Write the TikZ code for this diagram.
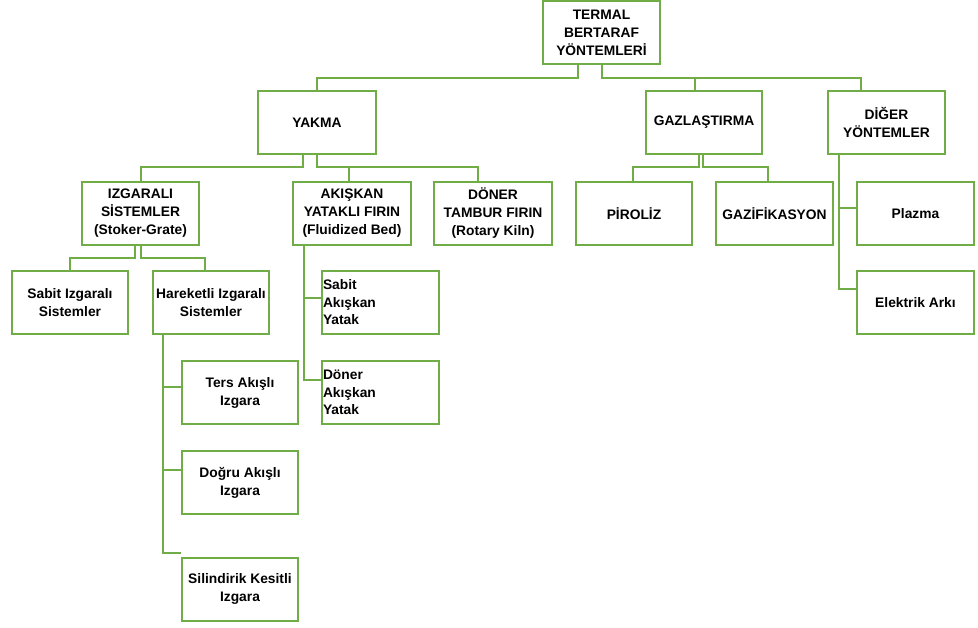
\documentclass[tikz,border=0pt]{standalone}
\usepackage{fontspec}
\setmainfont{Liberation Sans}
\definecolor{boxgreen}{RGB}{112,173,71}
\begin{document}
\begin{tikzpicture}[x=1pt,y=-1pt,
  box/.style={draw=boxgreen, line width=2pt, fill=white, minimum width=117pt, minimum height=63pt,
    inner sep=0pt, align=center, font=\fontsize{13.8}{18}\selectfont\bfseries, text=black},
  lbox/.style={draw=boxgreen, line width=2pt, fill=white, text width=115pt, minimum height=63pt,
    inner xsep=1pt, inner ysep=0pt, align=left, font=\fontsize{13.8}{17.5}\selectfont\bfseries, text=black},
  conn/.style={draw=boxgreen, line width=2pt}]
\useasboundingbox (0,0) rectangle (978,628);
% level 0
\node[box] (root) at (601.5,32.5) {TERMAL\\BERTARAF\\YÖNTEMLERİ};
% level 1
\node[box, minimum width=118pt] (yakma) at (317,122.5) {\raisebox{-2pt}{YAKMA}};
\node[box, minimum width=116pt] (gaz) at (704,122.5) {\raisebox{-3pt}{GAZLAŞTIRMA}};
\node[box] (diger) at (886.5,122.5) {DİĞER\\YÖNTEMLER};
% level 2
\node[box] (izg) at (140.5,213.5) {IZGARALI\\SİSTEMLER\\(Stoker-Grate)};
\node[box, minimum width=118pt] (aki) at (352,213.5) {AKIŞKAN\\YATAKLI FIRIN\\(Fluidized Bed)};
\node[box, minimum width=118pt] (don) at (493,213.5) {DÖNER\\TAMBUR FIRIN\\(Rotary Kiln)};
\node[box, minimum width=116pt] (pir) at (634,213.5) {PİROLİZ};
\node[box] (gzf) at (774.5,213.5) {GAZİFİKASYON};
\node[box] (plz) at (915.5,213.5) {Plazma};
\node[box] (elk) at (915.5,302.5) {Elektrik Arkı};
% level 3
\node[box, minimum width=116pt] (sbz) at (70,302.5) {Sabit Izgaralı\\Sistemler};
\node[box, minimum width=116pt] (hrk) at (211,302.5) {Hareketli Izgaralı\\Sistemler};
\node[lbox] (sak) at (380.5,302.5) {Sabit\\Akışkan\\Yatak};
\node[lbox] (dak) at (380.5,392.5) {Döner\\Akışkan\\Yatak};
% level 4
\node[box, minimum width=116pt] (trs) at (240,392.5) {Ters Akışlı\\Izgara};
\node[box, minimum width=116pt] (dgr) at (240,482.5) {Doğru Akışlı\\Izgara};
\node[box, minimum width=116pt] (sil) at (240,589) {Silindirik Kesitli\\Izgara};
% connectors
\draw[conn] ([xshift=-23.5]root.south) -- ++(0,13) -| (yakma.north);
\draw[conn] (root.south) -- ++(0,13) -| ([xshift=50]gaz.north west);
\draw[conn] (root.south) -- ++(0,13) -| ([xshift=34]diger.north west);
\draw[conn] ([xshift=-14]yakma.south) -- ++(0,12) -| (izg.north);
\draw[conn] (yakma.south) -- ++(0,12) -| ([xshift=-3]aki.north);
\draw[conn] (yakma.south) -- ++(0,12) -| ([xshift=-15]don.north);
\draw[conn] ([xshift=-5]gaz.south) -- ++(0,12) -| ([xshift=-1]pir.north);
\draw[conn] ([xshift=-1]gaz.south) -- ++(0,12) -| ([xshift=-6.5]gzf.north);
\draw[conn] ([xshift=12]diger.south west) |- ([yshift=5.5]plz.west);
\draw[conn] ([xshift=12]diger.south west) |- ([yshift=13.5]elk.west);
\draw[conn] ([xshift=-5.5]izg.south) -- ++(0,12) -| (sbz.north);
\draw[conn] (izg.south) -- ++(0,12) -| ([xshift=-6]hrk.north);
\draw[conn] ([xshift=11]hrk.south west) |- ([yshift=5.5]trs.west);
\draw[conn] ([xshift=11]hrk.south west) |- ([yshift=12.5]dgr.west);
\draw[conn] ([xshift=11]hrk.south west) |- ([yshift=4]sil.north west);
\draw[conn] ([xshift=12]aki.south west) |- ([yshift=4.5]sak.west);
\draw[conn] ([xshift=12]aki.south west) |- ([yshift=12.5]dak.west);
\end{tikzpicture}
\end{document}
